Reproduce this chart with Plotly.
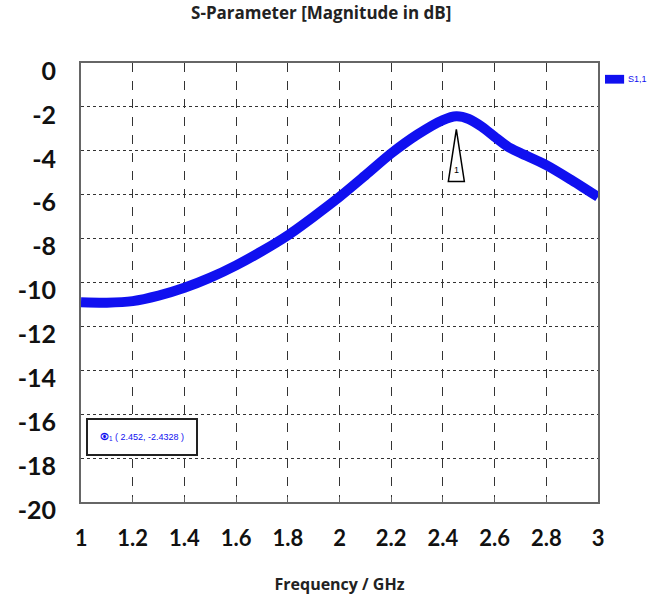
import plotly.graph_objects as go

freq = [1.0, 1.1, 1.2, 1.3, 1.4, 1.5, 1.6, 1.7, 1.8, 1.9, 2.0, 2.1, 2.2, 2.3, 2.4, 2.452, 2.5, 2.55, 2.6, 2.65, 2.7, 2.8, 2.9, 3.0]
s11 = [-10.90, -10.92, -10.85, -10.60, -10.24, -9.78, -9.22, -8.57, -7.85, -7.00, -6.10, -5.12, -4.12, -3.27, -2.60, -2.43, -2.55, -2.90, -3.36, -3.80, -4.10, -4.65, -5.35, -6.10]
marker_x = 2.452
marker_y = -2.4328
x_ticks = [1, 1.2, 1.4, 1.6, 1.8, 2, 2.2, 2.4, 2.6, 2.8, 3]
y_ticks = [0, -2, -4, -6, -8, -10, -12, -14, -16, -18, -20]
series_name = "S1,1"

BLUE = "#1010f0"
fig = go.Figure()
fig.add_trace(go.Scatter(x=freq, y=s11, mode="lines", name=series_name,
                         line=dict(color=BLUE, width=10, shape="spline", smoothing=0.8)))

# marker triangle
fig.add_shape(type="path", xref="x", yref="y", xsizemode="pixel", ysizemode="pixel",
              xanchor=marker_x, yanchor=marker_y,
              path="M 0 -13 L -8 -65 L 8 -65 Z",
              line=dict(color="black", width=1.5), fillcolor="white")
fig.add_annotation(x=marker_x, y=marker_y, xref="x", yref="y", text="1", showarrow=False,
                   yshift=-54, font=dict(size=9, color="black", family="Liberation Sans"))

# marker readout box
fig.add_annotation(xref="paper", yref="paper", x=0.01, y=0.147, xanchor="left", yanchor="middle",
                   text="<b>⦿</b><sub>1</sub> ( 2.452, -2.4328 )", showarrow=False,
                   font=dict(size=9, color=BLUE, family="Liberation Sans Narrow, Liberation Sans"),
                   width=98, height=24, align="center",
                   bordercolor="#222", borderwidth=2, bgcolor="white", borderpad=5)

# legend drawn manually (outside plot area)
fig.add_shape(type="rect", xref="paper", yref="paper", x0=1.0135, x1=1.0505, y0=0.953, y1=0.973,
              line=dict(width=0), fillcolor=BLUE)
fig.add_annotation(xref="paper", yref="paper", x=1.054, y=0.963, xanchor="left", yanchor="middle",
                   text=series_name, showarrow=False,
                   font=dict(size=9, color=BLUE, family="Liberation Sans Narrow, Liberation Sans"))

fig.update_layout(
    width=649, height=603,
    margin=dict(l=81, r=51, t=63, b=99),
    paper_bgcolor="white", plot_bgcolor="white",
    showlegend=False,
    title=dict(text="<b>S-Parameter [Magnitude in dB]</b>", x=0.495, xanchor="center", y=0.988, yanchor="top",
               font=dict(size=17, color="#222", family="Open Sans")),
    xaxis=dict(range=[1, 3], tickvals=x_ticks, ticktext=[str(v) for v in x_ticks],
               showgrid=True, gridcolor="#333", griddash="dash", gridwidth=1,
               showline=True, linecolor="#666", linewidth=2, mirror=True,
               ticks="inside", ticklen=5, tickcolor="#666", zeroline=False,
               ticklabelstandoff=16,
               tickfont=dict(size=22, color="#111", family="Lato", weight="bold"),
               title=dict(text="<b>Frequency / GHz</b>", standoff=28,
                          font=dict(size=16, color="#222", family="Open Sans"))),
    yaxis=dict(range=[-20, 0], tickvals=y_ticks, ticktext=[str(v) for v in y_ticks],
               showgrid=True, gridcolor="#333", griddash="dot", gridwidth=1,
               showline=True, linecolor="#666", linewidth=2, mirror=True,
               ticks="", zeroline=False, ticklabelstandoff=18, ticklabelshift=8,
               tickfont=dict(size=25, color="#111", family="Lato", weight="bold")),
)

fig.write_html("out.html")
